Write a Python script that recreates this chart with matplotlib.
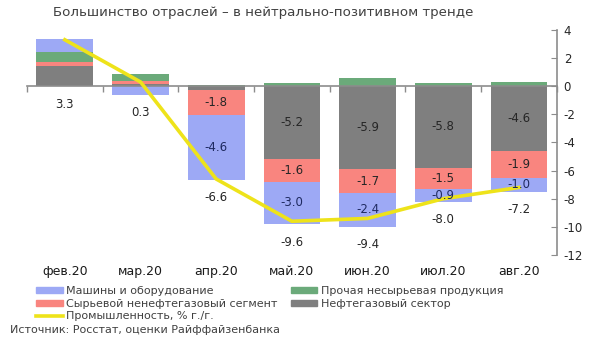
import matplotlib
matplotlib.use("Agg")
import matplotlib.pyplot as plt
import matplotlib.transforms as mtransforms
from matplotlib.patches import Patch
from matplotlib.lines import Line2D
import numpy as np

plt.rcParams['font.family'] = ['DejaVu Sans']

categories = ["фев.20", "мар.20", "апр.20", "май.20", "июн.20", "июл.20", "авг.20"]
oil_gas = [1.4, 0.15, -0.25, -5.2, -5.9, -5.8, -4.6]
raw_nonoil = [0.3, 0.2, -1.8, -1.6, -1.7, -1.5, -1.9]
other_nonraw = [0.7, 0.55, 0.05, 0.2, 0.6, 0.25, 0.3]
machinery = [0.95, -0.6, -4.6, -3.0, -2.4, -0.9, -1.0]
industry = [3.3, 0.3, -6.6, -9.6, -9.4, -8.0, -7.2]
yticks = [4, 2, 0, -2, -4, -6, -8, -10, -12]

c_blue = "#9DA9F5"
c_green = "#6BAA7A"
c_red = "#F9857F"
c_gray = "#7F7F7F"
c_yellow = "#EEE31A"

fig = plt.figure(figsize=(6, 3.4), dpi=100)
ax = fig.add_axes([0.045, 0.25, 0.883, 0.662])

x = np.arange(len(categories))
w = 0.75
series = [
    ("Нефтегазовый сектор", oil_gas, c_gray, "#262626", True),
    ("Сырьевой ненефтегазовый сегмент", raw_nonoil, c_red, "#262626", True),
    ("Прочая несырьевая продукция", other_nonraw, c_green, "#262626", False),
    ("Машины и оборудование", machinery, c_blue, "#1F2A60", True),
]
pos_base = np.zeros(len(x))
neg_base = np.zeros(len(x))
for name, vals, col, tcol, lab in series:
    vals = np.array(vals)
    bottoms = np.where(vals >= 0, pos_base, neg_base)
    ax.bar(x, vals, w, bottom=bottoms, color=col, zorder=2)
    for i, v in enumerate(vals):
        if lab and i >= 2 and v <= -0.5:
            ax.text(x[i], bottoms[i] + v / 2, f"{v:.1f}", ha="center", va="center",
                    fontsize=8.5, color=tcol, zorder=5)
    pos_base = pos_base + np.where(vals >= 0, vals, 0)
    neg_base = neg_base + np.where(vals < 0, vals, 0)

ax.plot(x, industry, color=c_yellow, lw=2.6, zorder=4, solid_joinstyle="miter")

for i, v in enumerate(industry):
    ax.annotate(f"{v:.1f}", (x[i], neg_base[i]), xytext=(0, -13), textcoords="offset points",
                ha="center", va="center", fontsize=8.5, color="#262626")

ax.set_xlim(-0.5, len(x) - 0.5)
ax.set_ylim(-12, 4)

for s in ["top", "left"]:
    ax.spines[s].set_visible(False)
ax.spines["bottom"].set_position(("data", 0))
ax.spines["bottom"].set_color("#8C8C8C")
ax.spines["right"].set_color("#8C8C8C")
ax.spines["bottom"].set_linewidth(1.2)
ax.spines["right"].set_linewidth(1.2)
ax.set_xticks(np.arange(len(x) + 1) - 0.5)
ax.set_xticklabels([])
ax.tick_params(axis="x", direction="out", length=4, color="#8C8C8C", width=1)
ax.yaxis.tick_right()
ax.set_yticks(yticks)
ax.set_yticklabels([f"{t:d}" for t in yticks])
ax.tick_params(axis="y", direction="in", length=4, color="#8C8C8C", labelsize=8.5,
               labelcolor="#262626", pad=5)

trans = mtransforms.blended_transform_factory(ax.transData, ax.transAxes)
for i, c in enumerate(categories):
    ax.text(x[i], -0.075, c, transform=trans, ha="center", va="center",
            fontsize=9, color="#1a1a1a")

fig.text(0.438, 0.962, "Большинство отраслей – в нейтрально-позитивном тренде",
         ha="center", va="center", fontsize=9.6, color="#404040")

handles = [
    Patch(color=c_blue, label="Машины и оборудование"),
    Patch(color=c_red, label="Сырьевой ненефтегазовый сегмент"),
    Line2D([0], [0], color=c_yellow, lw=2.6, label="Промышленность, % г./г."),
    Patch(color=c_green, label="Прочая несырьевая продукция"),
    Patch(color=c_gray, label="Нефтегазовый сектор"),
]
fig.legend(handles=handles, loc="upper left", bbox_to_anchor=(0.06, 0.158), ncol=2,
           frameon=False, fontsize=8, handlelength=2.4, handleheight=0.45,
           handletextpad=0.3, labelspacing=0.22, columnspacing=1.2,
           borderpad=0, borderaxespad=0, labelcolor="#404040")

fig.text(0.017, 0.03, "Источник: Росстат, оценки Райффайзенбанка", ha="left", va="center",
         fontsize=8, color="#404040")

fig.savefig("out.png", dpi=100)
